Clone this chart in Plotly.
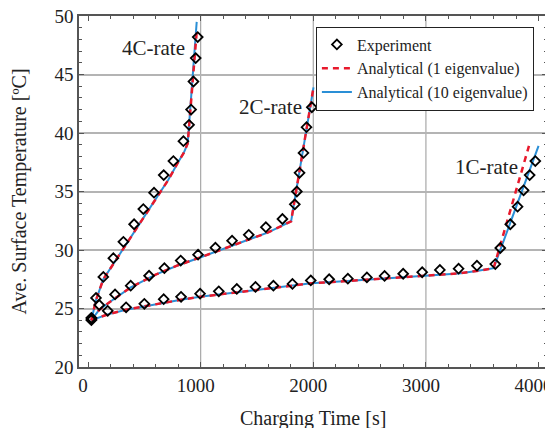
import plotly.graph_objects as go

# ---------------- data ----------------
# Experiment (diamonds)
exp_4c_t = [30, 71, 136, 225, 314, 409, 491, 586, 672, 758, 847, 897, 915, 936, 956, 974]
exp_4c_T = [24.2, 25.9, 27.7, 29.3, 30.7, 32.2, 33.5, 34.9, 36.4, 37.6, 39.3, 40.7, 42.0, 44.4, 46.4, 48.2]

exp_2c_t = [30, 100, 240, 379, 542, 678, 823, 977, 1131, 1279, 1427, 1579, 1726, 1836, 1854, 1878, 1913, 1940, 1987]
exp_2c_T = [24.1, 25.3, 26.2, 26.95, 27.8, 28.45, 29.1, 29.6, 30.2, 30.8, 31.3, 31.95, 32.65, 33.9, 35.0, 36.6, 38.3, 40.5, 42.2]

exp_1c_t = [30, 175, 338, 500, 672, 826, 995, 1161, 1321, 1487, 1646, 1815, 1978, 2141, 2307, 2476, 2633, 2798,
            2967, 3124, 3290, 3453, 3616, 3660, 3749, 3814, 3867, 3921, 3971]
exp_1c_T = [24.0, 24.8, 25.1, 25.4, 25.8, 26.0, 26.27, 26.47, 26.67, 26.84, 26.95, 27.1, 27.4, 27.5, 27.55, 27.66,
            27.78, 27.97, 28.1, 28.3, 28.4, 28.66, 28.8, 30.17, 32.2, 33.7, 35.1, 36.4, 37.6]

# Analytical (10 eigenvalue) - solid blue
a10_4c_t = [30, 70, 136, 300, 500, 713, 800, 850, 885, 925, 965]
a10_4c_T = [24.0, 25.7, 27.5, 29.9, 32.8, 36.0, 37.5, 38.3, 39.1, 44.3, 49.5]
a10_2c_t = [30, 100, 200, 379, 600, 800, 977, 1200, 1427, 1600, 1803, 2002]
a10_2c_T = [24.0, 24.9, 25.6, 26.8, 27.9, 28.7, 29.3, 30.1, 30.9, 31.5, 32.45, 43.9]
a10_1c_t = [30, 175, 338, 500, 826, 995, 1321, 1646, 1981, 2300, 2633, 2967, 3290, 3450, 3601, 4000]
a10_1c_T = [24.0, 24.5, 24.9, 25.2, 25.75, 26.0, 26.4, 26.75, 27.15, 27.35, 27.55, 27.75, 28.0, 28.2, 28.45, 38.9]

# Analytical (1 eigenvalue) - dashed red
a1_4c_t = [30, 70, 136, 300, 500, 713, 800, 850, 885, 925, 968]
a1_4c_T = [24.0, 25.7, 27.5, 29.9, 32.8, 36.0, 37.5, 38.3, 39.1, 44.0, 49.0]
a1_2c_t = [30, 100, 200, 379, 600, 800, 977, 1200, 1427, 1600, 1803, 2002]
a1_2c_T = [24.0, 24.9, 25.6, 26.8, 27.9, 28.7, 29.3, 30.1, 30.9, 31.5, 32.45, 43.9]
a1_1c_t = [30, 175, 338, 500, 826, 995, 1321, 1646, 1981, 2300, 2633, 2967, 3290, 3450, 3601, 3915]
a1_1c_T = [24.0, 24.5, 24.9, 25.2, 25.75, 26.0, 26.4, 26.75, 27.15, 27.35, 27.55, 27.75, 28.0, 28.2, 28.45, 38.9]

x_ticks = [0, 1000, 2000, 3000, 4000]
y_ticks = [20, 25, 30, 35, 40, 45, 50]
x_grid = [1000, 2000, 3000]

rate_labels = ["4C-rate", "2C-rate", "1C-rate"]
rate_label_t = [582, 1617, 3536]
rate_label_T = [47.3, 42.2, 37.1]

x_title = "Charging Time [s]"
y_title = "Ave. Surface Temperature [ºC]"

# ---------------- figure ----------------
FONT = "Liberation Serif, Times New Roman, serif"
BLUE = "#2a8fd6"
RED = "#e8192c"

fig = go.Figure()

for i, (t, T) in enumerate([(a10_4c_t, a10_4c_T), (a10_2c_t, a10_2c_T), (a10_1c_t, a10_1c_T)]):
    fig.add_trace(go.Scatter(x=t, y=T, mode="lines", line=dict(color=BLUE, width=2),
                             name="Analytical (10 eigenvalue)", legendgroup="a10",
                             showlegend=(i == 0), legendrank=3))

for i, (t, T) in enumerate([(a1_4c_t, a1_4c_T), (a1_2c_t, a1_2c_T), (a1_1c_t, a1_1c_T)]):
    fig.add_trace(go.Scatter(x=t, y=T, mode="lines", line=dict(color=RED, width=2.5, dash="6px,5px"),
                             name="Analytical (1 eigenvalue)", legendgroup="a1",
                             showlegend=(i == 0), legendrank=2))

for i, (t, T) in enumerate([(exp_4c_t, exp_4c_T), (exp_2c_t, exp_2c_T), (exp_1c_t, exp_1c_T)]):
    fig.add_trace(go.Scatter(x=t, y=T, mode="markers",
                             marker=dict(symbol="diamond-open", size=7.5, color="black",
                                         line=dict(color="black", width=1.8)),
                             name="Experiment", legendgroup="exp",
                             showlegend=(i == 0), legendrank=1))

for g in x_grid:
    fig.add_shape(type="line", x0=g, x1=g, y0=0, y1=1, xref="x", yref="paper",
                  line=dict(color="#a8a8a8", width=1.2), layer="below")

for lab, t, T in zip(rate_labels, rate_label_t, rate_label_T):
    fig.add_annotation(x=t, y=T, text=lab, showarrow=False,
                       font=dict(family=FONT, size=21, color="#222"))

# x-axis title (placed as annotation so it can sit as low as in the reference)
fig.add_annotation(x=0.5, y=0, xref="paper", yref="paper", xanchor="center", yanchor="middle",
                   yshift=-51, text=x_title, showarrow=False,
                   font=dict(family=FONT, size=20, color="#222"))

axis_common = dict(
    showline=True, linecolor="#555", linewidth=1.5, mirror="ticks",
    ticks="inside", ticklen=5, tickcolor="#555", tickwidth=1,
    tickfont=dict(family=FONT, size=19, color="#222"),
    zeroline=False, automargin=False, ticklabeloverflow="allow",
)

fig.update_xaxes(**axis_common, range=[-80, 4075], tickvals=x_ticks, showgrid=False,
                 ticklabelshift=-5,
                 minor=dict(dtick=200, ticks="inside", ticklen=3, tickcolor="#555", showgrid=False))
fig.update_yaxes(**axis_common, range=[20, 50], tickvals=y_ticks, showgrid=True,
                 gridcolor="#b4b4b4", gridwidth=1.5,
                 minor=dict(dtick=1, ticks="inside", ticklen=3, tickcolor="#555", showgrid=False),
                 title=dict(text=y_title,
                            font=dict(family=FONT, size=20, color="#222"), standoff=25))

fig.update_layout(
    width=545, height=420,
    margin=dict(l=71, r=6, t=8, b=61),
    plot_bgcolor="white", paper_bgcolor="white",
    font=dict(family=FONT, color="#222"),
    legend=dict(x=0.972, y=0.97, xanchor="right", yanchor="top",
                bgcolor="white", bordercolor="#222", borderwidth=1,
                font=dict(family=FONT, size=16, color="#222"),
                tracegroupgap=0, itemwidth=30),
)

fig.write_html("out.html")
